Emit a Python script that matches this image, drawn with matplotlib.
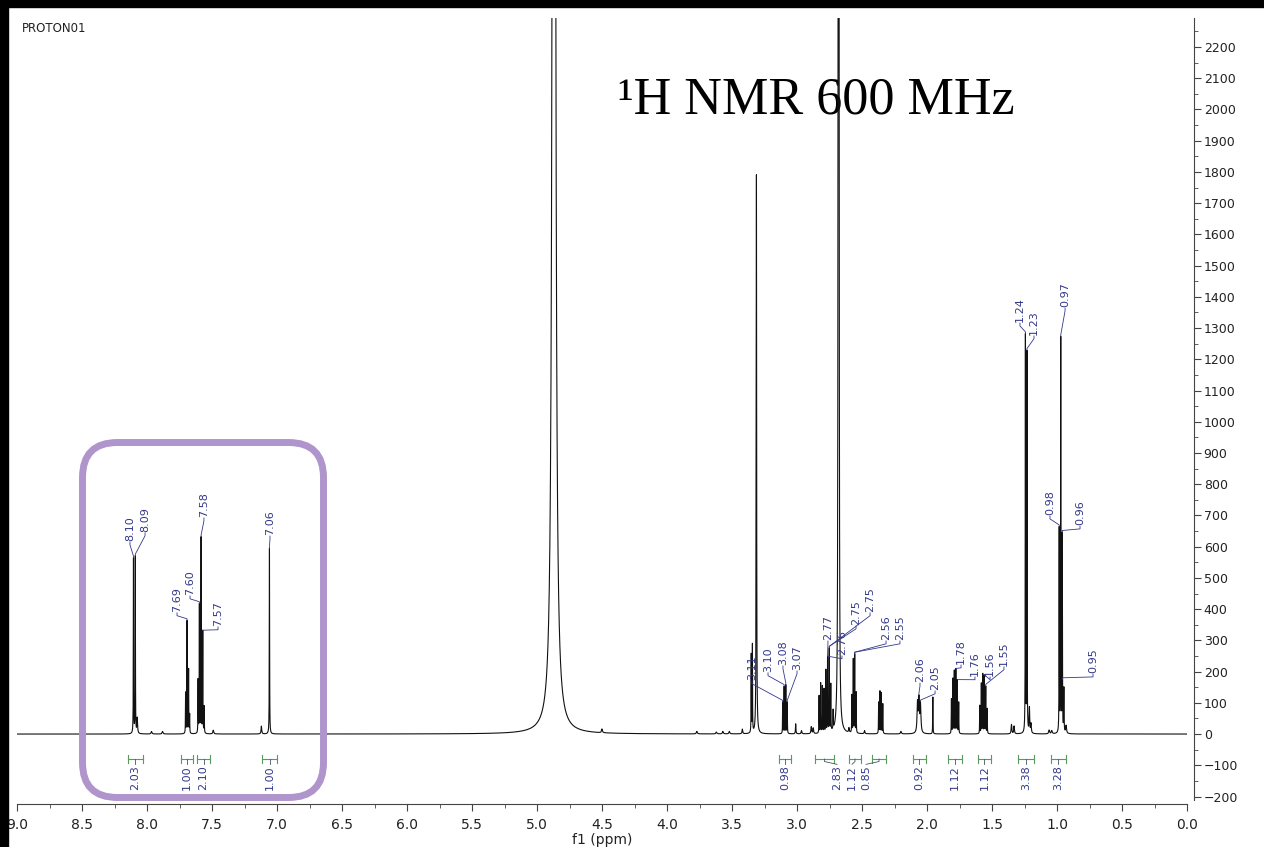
import numpy as np
import matplotlib
matplotlib.use('Agg')
import matplotlib.pyplot as plt
from matplotlib.patches import FancyBboxPatch, Rectangle

# 1H spectrum: line position (ppm), height, half width (ppm)
peak_ppm = [8.104, 8.090, 8.075, 7.965, 7.880,
            7.703, 7.692, 7.680, 7.672,
            7.607, 7.597, 7.584, 7.571, 7.560, 7.490, 7.120, 7.058,
            4.870, 4.500, 3.770, 3.620, 3.570, 3.520, 3.420,
            3.352, 3.343, 3.312,
            3.110, 3.099, 3.086, 3.075, 3.010, 2.965, 2.890, 2.875,
            2.830, 2.818, 2.805, 2.792, 2.778, 2.765, 2.752, 2.740, 2.722,
            2.682, 2.678, 2.600,
            2.578, 2.567, 2.556, 2.545, 2.480,
            2.372, 2.362, 2.351, 2.340, 2.200,
            2.073, 2.062, 2.050, 1.955,
            1.812, 1.801, 1.790, 1.778, 1.767, 1.756,
            1.594, 1.582, 1.571, 1.559, 1.548, 1.537,
            1.350, 1.330,
            1.243, 1.231, 1.212, 1.200,
            1.060, 1.040, 0.983, 0.971, 0.959, 0.947, 0.930]
peak_height = [560, 565, 50, 8, 8,
               130, 360, 205, 60,
               170, 410, 625, 325, 85, 12, 25, 595,
               20000, 12, 8, 6, 8, 8, 15,
               250, 280, 1790,
               100, 150, 155, 100, 32, 10, 22, 18,
               120, 160, 150, 140, 200, 240, 265, 150, 60,
               5000, 5000, 15,
               120, 235, 250, 130, 10,
               100, 135, 130, 95, 8,
               95, 105, 90, 118,
               110, 175, 200, 205, 170, 100,
               90, 160, 190, 185, 150, 80,
               30, 25,
               1270, 1215, 80, 30,
               12, 10, 650, 1260, 630, 140, 25]
peak_hwhm = [0.0012, 0.0012, 0.003, 0.004, 0.004,
             0.0012, 0.0012, 0.0012, 0.0012,
             0.0012, 0.0012, 0.0012, 0.0012, 0.0012, 0.004, 0.003, 0.0013,
             0.0055, 0.004, 0.004, 0.004, 0.004, 0.004, 0.003,
             0.0012, 0.0012, 0.0018,
             0.0012, 0.0012, 0.0012, 0.0012, 0.002, 0.003, 0.003, 0.003,
             0.0012, 0.0012, 0.0012, 0.0012, 0.0012, 0.0012, 0.0012, 0.0012, 0.0012,
             0.0018, 0.0018, 0.003,
             0.0012, 0.0012, 0.0012, 0.0012, 0.003,
             0.0012, 0.0012, 0.0012, 0.0012, 0.004,
             0.004, 0.004, 0.004, 0.0012,
             0.0012, 0.0012, 0.0012, 0.0012, 0.0012, 0.0012,
             0.0012, 0.0012, 0.0012, 0.0012, 0.0012, 0.0012,
             0.003, 0.003,
             0.0012, 0.0012, 0.0025, 0.003,
             0.004, 0.004, 0.0012, 0.0012, 0.0012, 0.0015, 0.004]

# peak picking labels
peak_labels = ['8.10', '8.09', '7.69', '7.60', '7.58', '7.57', '7.06',
               '3.11', '3.10', '3.08', '3.07',
               '2.77', '2.76', '2.75', '2.75', '2.56', '2.55',
               '2.06', '2.05', '1.78', '1.76', '1.56', '1.55',
               '1.24', '1.23', '0.98', '0.97', '0.96', '0.95']
# where the label text sits (ppm, bottom of text)
label_x = [8.131, 8.015, 7.769, 7.669, 7.562, 7.454, 7.054,
           3.346, 3.223, 3.108, 3.000,
           2.762, 2.654, 2.546, 2.438, 2.315, 2.208,
           2.054, 1.938, 1.738, 1.631, 1.515, 1.408,
           1.285, 1.177, 1.054, 0.938, 0.823, 0.723]
label_y = [618, 647, 391, 445, 695, 346, 637,
           173, 199, 221, 205,
           301, 253, 349, 391, 301, 301,
           166, 141, 224, 186, 186, 218,
           1319, 1278, 701, 1367, 669, 195]

# integrals
int_from = [8.146, 7.738, 7.615, 7.115, 3.138, 2.862, 2.600, 2.423, 2.108, 1.838, 1.608, 1.300, 1.046]
int_to = [8.031, 7.646, 7.515, 7.000, 3.046, 2.715, 2.508, 2.315, 2.008, 1.731, 1.508, 1.177, 0.931]
int_value = ['2.03', '1.00', '2.10', '1.00', '0.98', '2.83', '1.12', '0.85', '0.92', '1.12', '1.12', '3.38', '3.28']
int_shift = [0, 0, 0, 0, 0, -0.096, 0.023, 0.1, 0, 0, 0, 0, 0]

NAVY = '#33388a'
GREEN = '#5a9a5a'

ppm = np.linspace(0, 9, 180001)
spec = np.zeros_like(ppm)
for c, h, g in zip(peak_ppm, peak_height, peak_hwhm):
    spec += h / (1 + ((ppm - c) / g) ** 2)

W, H = 1264, 847
fig = plt.figure(figsize=(W / 100, H / 100), dpi=100)
ax = fig.add_axes([17 / W, 43 / H, 1170 / W, 786 / H])
ax.plot(ppm, spec, color='#111111', lw=0.8, zorder=2)
ax.set_xlim(9, 0)
ax.set_ylim(-224, 2293)

for s in ['top', 'left']:
    ax.spines[s].set_visible(False)
ax.spines['bottom'].set_color('#444444')
ax.spines['right'].set_color('#444444')
ax.spines['right'].set_position(('outward', 5))
ax.spines['right'].set_bounds(-210, 2293)
ax.yaxis.tick_right()
ax.set_xticks(np.arange(0, 9.01, 0.5))
ax.set_xticks(np.arange(0, 9.01, 0.25), minor=True)
ax.set_xticklabels(['%.1f' % v for v in np.arange(0, 9.01, 0.5)])
ax.set_yticks(np.arange(-200, 2201, 100))
ax.set_yticks(np.arange(-200, 2251, 50), minor=True)
ax.tick_params(axis='x', which='major', direction='out', length=5, color='#444444', labelsize=10, pad=5, labelcolor='#222222')
ax.tick_params(axis='x', which='minor', direction='out', length=3, color='#444444')
ax.tick_params(axis='y', which='major', direction='out', length=5, color='#444444', labelsize=9, pad=2, labelcolor='#222222')
ax.tick_params(axis='y', which='minor', direction='out', length=3, color='#444444')
ax.set_xlabel('f1 (ppm)', fontsize=10, labelpad=0, color='#222222')
ax.xaxis.set_label_coords(0.5, -0.037)

# peak labels with leader lines
for txt, lx, lb in zip(peak_labels, label_x, label_y):
    v = float(txt)
    m = (ppm > v - 0.007) & (ppm < v + 0.007)
    i = np.argmax(spec[m])
    px, py = ppm[m][i], min(spec[m][i], 2290)
    xs, ys = [lx, lx], [lb - 3, lb - 12]
    if py + 5 < lb - 12:
        xs += [px, px]
        ys += [py + 5, py]
    else:
        xs += [px]
        ys += [py]
    ax.plot(xs, ys, color=NAVY, lw=0.6, zorder=3)
    ax.text(lx, lb, txt, rotation=90, ha='center', va='bottom', fontsize=8, color=NAVY, zorder=4)

# integral brackets
for a, b, val, sh in zip(int_from, int_to, int_value, int_shift):
    c = (a + b) / 2
    ax.plot([a, b], [-80, -80], color=GREEN, lw=0.8)
    ax.plot([a, a], [-68, -92], color=GREEN, lw=0.8)
    ax.plot([b, b], [-68, -92], color=GREEN, lw=0.8)
    ax.plot([c, c, c + sh], [-80, -88, -97], color='#445566', lw=0.6)
    ax.text(c + sh, -99, val, rotation=90, ha='center', va='top', fontsize=8, color=NAVY)

ax.text(22 / W, 1 - 28 / H, 'PROTON01', transform=fig.transFigure, fontsize=8.5,
        va='center', ha='left', color='#222222')
ax.text(618 / W, 1 - 101 / H, '\u00b9H NMR 600 MHz', transform=fig.transFigure,
        fontsize=37.5, family='Liberation Serif', va='center', ha='left', zorder=1)

# highlight box round the aromatic region
box = FancyBboxPatch((82.5 / W, 49.5 / H), 241 / W, 355 / H,
                     boxstyle='round,pad=0,rounding_size=%f' % (35 / W),
                     mutation_aspect=W / H, transform=fig.transFigure,
                     fill=False, ec='#b095cc', lw=5, zorder=5)
fig.add_artist(box)

# black frame edges of the screenshot
fig.add_artist(Rectangle((0, 1 - 7 / H), 1, 7 / H, transform=fig.transFigure, color='black', zorder=10))
fig.add_artist(Rectangle((0, 0), 8 / W, 1, transform=fig.transFigure, color='black', zorder=10))

fig.savefig('out.png', dpi=100)
